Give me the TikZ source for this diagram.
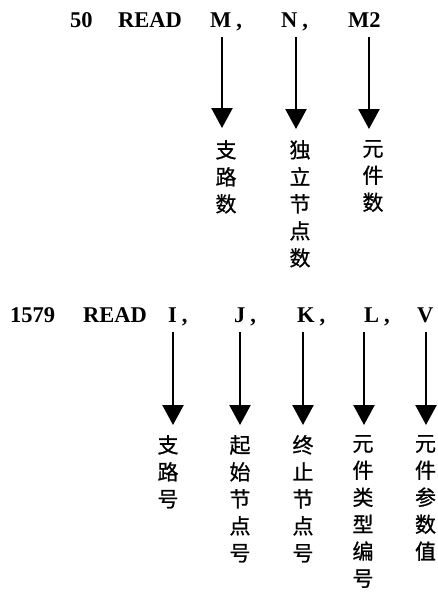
\documentclass[tikz,border=0pt]{standalone}
\usepackage{fontspec}
\setmainfont{Liberation Serif}
\newfontfamily\cjk[FakeBold=0.8]{Noto Sans CJK SC}
\usetikzlibrary{arrows.meta}
\newcommand{\cm}{\kern5pt,}
\begin{document}
\begin{tikzpicture}[x=1pt,y=-1pt,
  code/.style={anchor=base west,inner sep=0pt,font=\fontsize{22.5}{24}\selectfont\bfseries},
  lbl/.style={anchor=north,inner sep=0pt,align=center,font=\cjk\fontsize{21}{27}\selectfont},
  arr/.style={line width=2.4pt,-{Triangle[width=21pt,length=20pt]}}]
\useasboundingbox (0,0) rectangle (437,592);
% first statement
\node[code] (n50) at (70,27) {50};
\node[code] (r1) at (118,27) {READ};
\node[code] (vM) at (210,27) {M\cm};
\node[code] (vN) at (281,27) {N\cm};
\node[code] (vM2) at (348,27) {M2};
\coordinate (sM) at (222,37);
\coordinate (sN) at (296,37);
\coordinate (sM2) at (369,37);
\coordinate (eM) at (222,128);
\coordinate (eN) at (296,129);
\coordinate (eM2) at (369,129);
\draw[arr] (sM) -- (eM);
\draw[arr] (sN) -- (eN);
\draw[arr] (sM2) -- (eM2);
\node[lbl] (lM) at (226,140) {支\\路\\数};
\node[lbl] (lN) at (300,140) {独\\立\\节\\点\\数};
\node[lbl] (lM2) at (373,140) {元\\件\\数};
% second statement
\node[code] (n1579) at (10,322) {1579};
\node[code] (r2) at (83,322) {READ};
\node[code] (vI) at (168,322) {I\cm};
\node[code] (vJ) at (234,322) {J\cm};
\node[code] (vK) at (297,322) {K\cm};
\node[code] (vL) at (364,322) {L\cm};
\node[code] (vV) at (417,322) {V};
\coordinate (sI) at (173,332);
\coordinate (sJ) at (240,332);
\coordinate (sK) at (303,332);
\coordinate (sL) at (364,332);
\coordinate (sV) at (426,332);
\coordinate (eI) at (173,425);
\coordinate (eJ) at (240,425);
\coordinate (eK) at (303,425);
\coordinate (eL) at (364,425);
\coordinate (eV) at (426,425);
\draw[arr] (sI) -- (eI);
\draw[arr] (sJ) -- (eJ);
\draw[arr] (sK) -- (eK);
\draw[arr] (sL) -- (eL);
\draw[arr] (sV) -- (eV);
\node[lbl] (lI) at (168,435) {支\\路\\号};
\node[lbl] (lJ) at (240,435) {起\\始\\节\\点\\号};
\node[lbl] (lK) at (303,435) {终\\止\\节\\点\\号};
\node[lbl] (lL) at (363,435) {元\\件\\类\\型\\编\\号};
\node[lbl] (lV) at (425.5,435) {元\\件\\参\\数\\值};
\end{tikzpicture}
\end{document}
